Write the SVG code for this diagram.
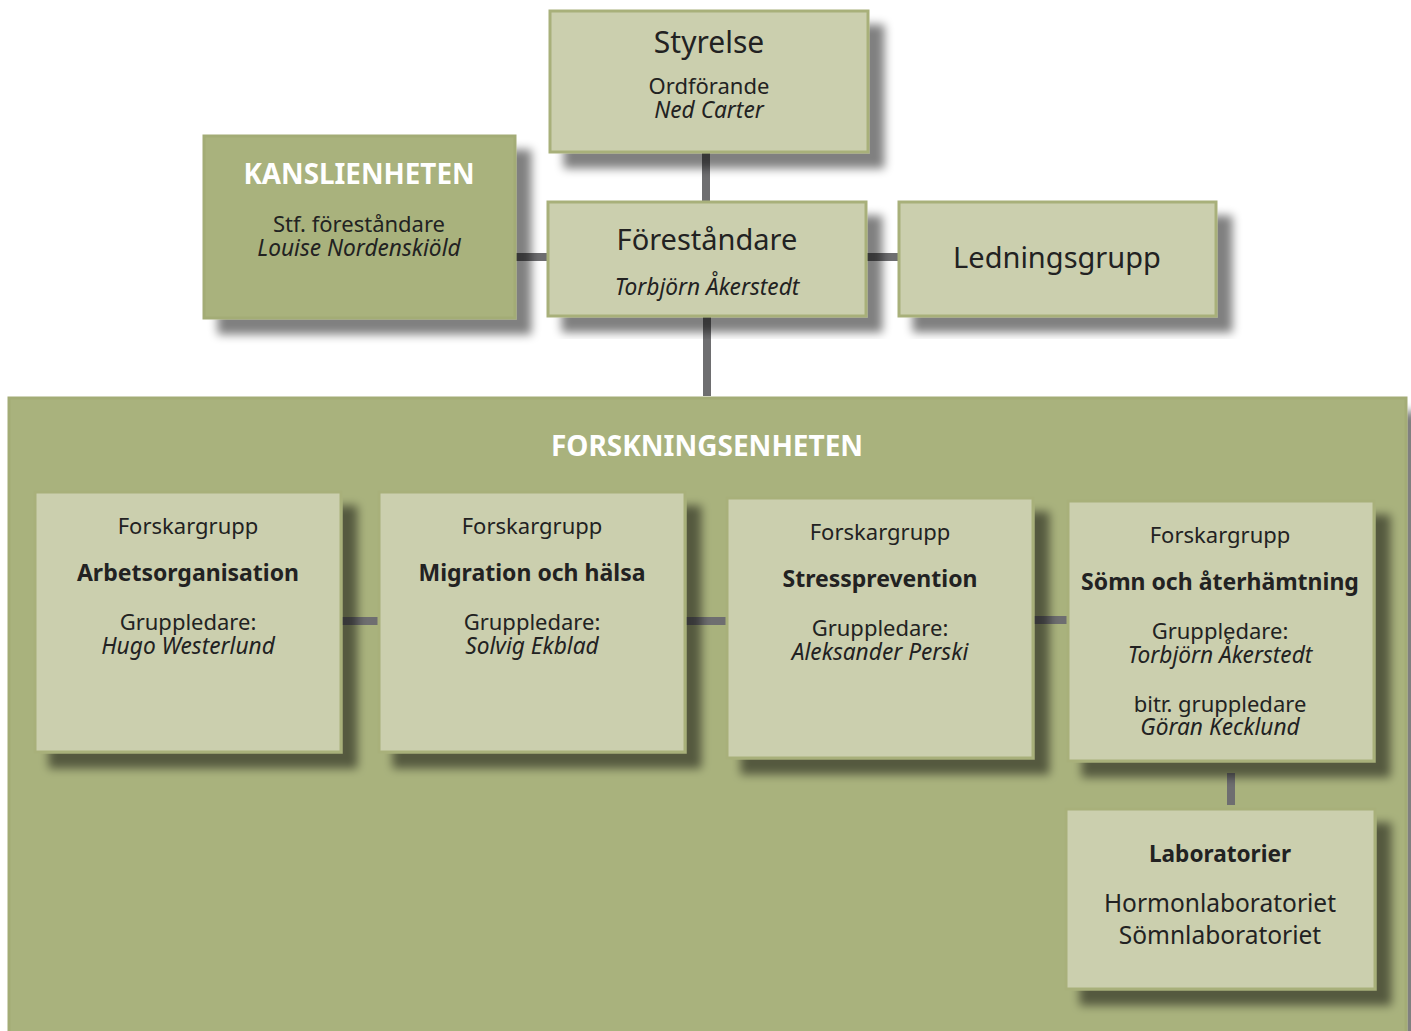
<svg xmlns="http://www.w3.org/2000/svg" width="1411" height="1031" viewBox="0 0 1411 1031">
<defs>
<filter id="sh" x="-10%" y="-10%" width="130%" height="130%">
<feGaussianBlur in="SourceAlpha" stdDeviation="5"/>
<feOffset dx="15" dy="15" result="b"/>
<feComponentTransfer><feFuncA type="linear" slope="0.5"/></feComponentTransfer>
<feMerge><feMergeNode/><feMergeNode in="SourceGraphic"/></feMerge>
</filter>
<style>
.box{fill:#cbcfae;stroke:#a8b07a;stroke-width:3}
.dark{fill:#a9b27d;stroke:#a3ac76;stroke-width:3}
.t{font-family:"Noto Sans","Open Sans",sans-serif;fill:#222;text-anchor:middle}
.w{fill:#fff;font-weight:bold}
.b{font-weight:bold;font-size:23px}
.i{font-style:italic;font-size:22.7px}
.c{fill:#6e6e70}
</style>
</defs>
<rect width="1411" height="1031" fill="#fff"/>
<g id="forskningsenheten">
<rect class="dark" x="9" y="398" width="1397" height="640" filter="url(#sh)"/>
<text class="t w" x="707" y="456" font-size="28">FORSKNINGSENHETEN</text>
</g>
<g id="connectors">
<rect class="c" x="702" y="150" width="8" height="52"/>
<rect class="c" x="515" y="253" width="33" height="8"/>
<rect class="c" x="866" y="253" width="32" height="8"/>
<rect class="c" x="703" y="316" width="8" height="80"/>
<rect class="c" x="341" y="617" width="38" height="8"/>
<rect class="c" x="685" y="617" width="42" height="8"/>
<rect class="c" x="1033" y="616" width="35" height="8"/>
<rect class="c" x="1227" y="773" width="8" height="32"/>
</g>
<g id="styrelse">
<rect class="box" x="550" y="11" width="318" height="141" filter="url(#sh)"/>
<text class="t" x="709" y="53" font-size="30">Styrelse</text>
<text class="t" x="709" y="94" font-size="22">Ordförande</text>
<text class="t i" x="709" y="118">Ned Carter</text>
</g>
<g id="kanslienheten">
<rect class="dark" x="204" y="136" width="311" height="182" filter="url(#sh)"/>
<text class="t w" x="359" y="184" font-size="27.8">KANSLIENHETEN</text>
<text class="t" x="359" y="232" font-size="22">Stf. föreståndare</text>
<text class="t i" x="359" y="256">Louise Nordenskiöld</text>
</g>
<g id="forestandare">
<rect class="box" x="548" y="202" width="318" height="114" filter="url(#sh)"/>
<text class="t" x="707" y="250" font-size="29">Föreståndare</text>
<text class="t i" x="707" y="295">Torbjörn Åkerstedt</text>
</g>
<g id="ledningsgrupp">
<rect class="box" x="899" y="202" width="317" height="114" filter="url(#sh)"/>
<text class="t" x="1057" y="268" font-size="29">Ledningsgrupp</text>
</g>
<g id="arbetsorganisation">
<rect class="box" x="35" y="492" width="306" height="260" filter="url(#sh)"/>
<text class="t" x="188" y="534" font-size="22">Forskargrupp</text>
<text class="t b" x="188" y="581">Arbetsorganisation</text>
<text class="t" x="188" y="630" font-size="22">Gruppledare:</text>
<text class="t i" x="188" y="654">Hugo Westerlund</text>
</g>
<g id="migration">
<rect class="box" x="379" y="492" width="306" height="260" filter="url(#sh)"/>
<text class="t" x="532" y="534" font-size="22">Forskargrupp</text>
<text class="t b" x="532" y="581">Migration och hälsa</text>
<text class="t" x="532" y="630" font-size="22">Gruppledare:</text>
<text class="t i" x="532" y="654">Solvig Ekblad</text>
</g>
<g id="stressprevention">
<rect class="box" x="727" y="498" width="306" height="260" filter="url(#sh)"/>
<text class="t" x="880" y="540" font-size="22">Forskargrupp</text>
<text class="t b" x="880" y="587">Stressprevention</text>
<text class="t" x="880" y="636" font-size="22">Gruppledare:</text>
<text class="t i" x="880" y="660">Aleksander Perski</text>
</g>
<g id="somn">
<rect class="box" x="1068" y="501" width="306" height="260" filter="url(#sh)"/>
<text class="t" x="1220" y="543" font-size="22">Forskargrupp</text>
<text class="t b" x="1220" y="590">Sömn och återhämtning</text>
<text class="t" x="1220" y="639" font-size="22">Gruppledare:</text>
<text class="t i" x="1220" y="663">Torbjörn Åkerstedt</text>
<text class="t" x="1220" y="712" font-size="22">bitr. gruppledare</text>
<text class="t i" x="1220" y="735">Göran Kecklund</text>
</g>
<g id="laboratorier">
<rect class="box" x="1066" y="809" width="309" height="180" filter="url(#sh)"/>
<text class="t b" x="1220" y="862" style="font-size:22.6px">Laboratorier</text>
<text class="t" x="1220" y="912" font-size="24.5">Hormonlaboratoriet</text>
<text class="t" x="1220" y="944" font-size="24.5">Sömnlaboratoriet</text>
</g>
</svg>
